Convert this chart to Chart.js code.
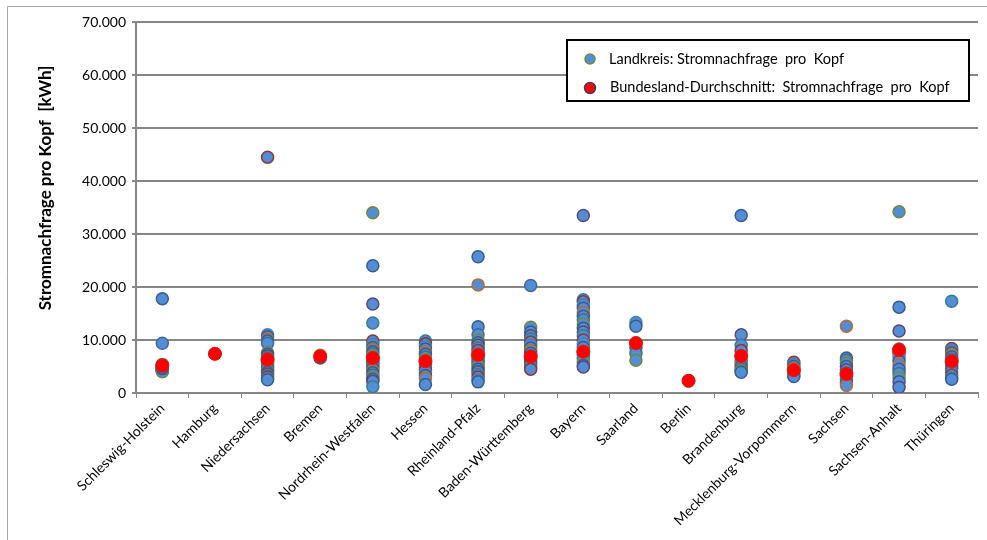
<!DOCTYPE html>
<html lang="de">
<head>
<meta charset="utf-8">
<title>Stromnachfrage pro Kopf</title>
<script src="https://cdn.jsdelivr.net/npm/chart.js@4.4.1/dist/chart.umd.min.js"></script>
<style>
  html, body { margin: 0; padding: 0; background: #fff; }
  #wrap { position: relative; width: 987px; height: 540px; overflow: hidden; }
  #chart { display: block; }
</style>
</head>
<body>
<div id="wrap"><canvas id="chart" width="987" height="540"></canvas></div>
<script>
// Kategorien (Bundesländer)
const bundeslaender = [
  'Schleswig-Holstein', 'Hamburg', 'Niedersachsen', 'Bremen', 'Nordrhein-Westfalen',
  'Hessen', 'Rheinland-Pfalz', 'Baden-Württemberg', 'Bayern', 'Saarland', 'Berlin',
  'Brandenburg', 'Mecklenburg-Vorpommern', 'Sachsen', 'Sachsen-Anhalt', 'Thüringen'
];

// Landkreise: Stromnachfrage pro Kopf [kWh]
const shWerte = [17800, 9400, 5400, 5200, 5000, 4800, 4600, 4500, 4400, 4300, 4200, 4100, 4000, 4600, 4900];
const hhWerte = [7400];
const niWerte = [44500, 11000, 10600, 10200, 9800, 9400, 7600, 7300, 7000, 6700, 6400, 6000, 5600, 5200, 4800, 4500, 4200, 3900, 3600, 3300, 3000, 2700, 2500];
const hbWerte = [7100, 6600];
const nwWerte = [34000, 24000, 16800, 13200, 9800, 9200, 8600, 8200, 7800, 7400, 7000, 6600, 6200, 5800, 5400, 5000, 4600, 4200, 3800, 3400, 3000, 2600, 2200, 1200];
const heWerte = [9800, 9300, 8800, 8300, 7800, 7300, 6800, 6300, 5800, 5300, 4800, 4300, 3800, 3300, 2800, 1600];
const rpWerte = [25700, 20400, 12500, 11000, 10000, 9500, 9000, 8500, 8000, 7500, 7000, 6500, 6000, 5500, 5000, 4500, 4000, 3500, 3000, 2500, 2100];
const bwWerte = [20300, 12400, 11500, 10800, 10200, 9600, 9000, 8500, 8000, 7500, 7000, 6500, 6000, 5500, 5000, 4500];
const byWerte = [33500, 17600, 17200, 16600, 16000, 15200, 14500, 13800, 13000, 12200, 11500, 10800, 10000, 9300, 8600, 7900, 7200, 6500, 5800, 5200, 4900];
const slWerte = [13300, 12600, 9500, 8600, 7500, 6200];
const beWerte = [2300];
const bbWerte = [33500, 11000, 9000, 8000, 7000, 6000, 5500, 5000, 4500, 4200, 3900];
const mvWerte = [5800, 5400, 5000, 4600, 4200, 3800, 3400, 3100];
const snWerte = [12600, 6600, 6200, 5600, 5000, 4400, 3800, 3200, 2600, 2000, 1400];
const stWerte = [34200, 16200, 11700, 8300, 7500, 6800, 6000, 5300, 4500, 3700, 2900, 2100, 1100];
const thWerte = [17300, 8400, 8000, 7600, 7200, 6800, 6300, 5800, 5200, 4600, 4000, 3400, 2900, 2600];

const landkreisWerte = [
  shWerte, hhWerte, niWerte, hbWerte, nwWerte, heWerte, rpWerte, bwWerte,
  byWerte, slWerte, beWerte, bbWerte, mvWerte, snWerte, stWerte, thWerte
];

// Bundesland-Durchschnitt
const durchschnitt = [5200, 7400, 6300, 6900, 6600, 6000, 7200, 6900, 7800, 9400, 2300, 7000, 4300, 3600, 8100, 6000];

const yTicks = [0, 10000, 20000, 30000, 40000, 50000, 60000, 70000];

// Randfarben wie in Excel, eine je Landkreis-Serie (meist dunkelblau)
const randFarben = ['#385d8a', '#3f6b9c', '#71893f', '#385d8a', '#5c4776', '#357d91', '#8c3836', '#4a7ebb', '#385d8a', '#b66d31'];
const FONT = 'Lato, "Open Sans", sans-serif';
const GRID = '#868686';

function fmt(v) {
  return String(v).replace(/\B(?=(\d{3})+(?!\d))/g, '.');
}

const punkte = [];
const punktRand = [];
landkreisWerte.forEach(function (werte, i) {
  werte.forEach(function (v, j) {
    punkte.push({ x: bundeslaender[i], y: v });
    punktRand.push(randFarben[(i * 3 + j) % randFarben.length]);
  });
});

const mittel = durchschnitt.map(function (v, i) {
  return { x: bundeslaender[i], y: v };
});

// Rahmen, Achsentitel und Legende
const extras = {
  id: 'extras',
  beforeDraw: function (chart) {
    const c = chart.ctx;
    c.save();
    c.strokeStyle = '#a6a6a6';
    c.lineWidth = 1;
    c.beginPath();
    c.moveTo(7.5, 540);
    c.lineTo(7.5, 6.5);
    c.lineTo(987, 6.5);
    c.stroke();
    c.restore();
  },
  afterDraw: function (chart) {
    const c = chart.ctx;
    c.save();
    c.translate(46, 188);
    c.rotate(-Math.PI / 2);
    c.fillStyle = '#000';
    c.font = 'bold 17px ' + FONT;
    c.textAlign = 'center';
    c.textBaseline = 'middle';
    c.fillText('Stromnachfrage pro Kopf  [kWh]', 0, 0);
    c.restore();

    c.save();
    c.fillStyle = '#fff';
    c.fillRect(567, 40, 402, 61);
    c.strokeStyle = '#000';
    c.lineWidth = 2;
    c.strokeRect(567, 40, 402, 61);

    c.beginPath();
    c.arc(590, 59, 5, 0, Math.PI * 2);
    c.fillStyle = '#538dd5';
    c.fill();
    c.strokeStyle = '#71893f';
    c.lineWidth = 1.5;
    c.stroke();

    c.beginPath();
    c.arc(590, 88, 5.5, 0, Math.PI * 2);
    c.fillStyle = '#ff0000';
    c.fill();
    c.strokeStyle = '#3c3c78';
    c.stroke();

    c.fillStyle = '#000';
    c.font = '14.5px ' + FONT;
    c.textAlign = 'left';
    c.textBaseline = 'middle';
    c.fillText('Landkreis: Stromnachfrage  pro  Kopf', 609, 59);
    c.fillText('Bundesland-Durchschnitt:  Stromnachfrage  pro  Kopf', 610, 87);
    c.restore();
  }
};

new Chart(document.getElementById('chart'), {
  type: 'line',
  data: {
    labels: bundeslaender,
    datasets: [
      {
        label: 'Bundesland-Durchschnitt: Stromnachfrage pro Kopf',
        data: mittel,
        showLine: false,
        pointRadius: 6.5,
        pointBackgroundColor: '#ff0000',
        pointBorderColor: '#f01010',
        pointBorderWidth: 1,
        order: 0
      },
      {
        label: 'Landkreis: Stromnachfrage pro Kopf',
        data: punkte,
        showLine: false,
        pointRadius: 6,
        pointBackgroundColor: '#538dd5',
        pointBorderColor: punktRand,
        pointBorderWidth: 1.5,
        order: 1
      }
    ]
  },
  options: {
    responsive: false,
    animation: false,
    events: [],
    layout: { padding: { top: 22, right: 9, left: 0, bottom: 0 } },
    plugins: { legend: { display: false }, tooltip: { enabled: false } },
    scales: {
      x: {
        type: 'category',
        offset: true,
        grid: { offset: true, drawOnChartArea: false, drawTicks: true, tickLength: 5, color: GRID, lineWidth: 1 },
        border: { display: true, color: GRID, width: 2 },
        ticks: {
          autoSkip: false,
          minRotation: 45,
          maxRotation: 45,
          padding: 2,
          color: '#000',
          font: { family: FONT, size: 14 }
        },
        afterFit: function (s) {
          s.height = 147;
        }
      },
      y: {
        min: 0,
        max: 70000,
        afterBuildTicks: function (s) {
          s.ticks = yTicks.map(function (v) {
            return { value: v };
          });
        },
        ticks: {
          padding: 6,
          color: '#000',
          font: { family: FONT, size: 14 },
          callback: function (v) {
            return fmt(v);
          }
        },
        grid: { color: GRID, lineWidth: 2, tickLength: 4 },
        border: { color: GRID, width: 2 },
        afterFit: function (s) {
          s.width = 136;
        }
      }
    }
  },
  plugins: [extras]
});
</script>
</body>
</html>
